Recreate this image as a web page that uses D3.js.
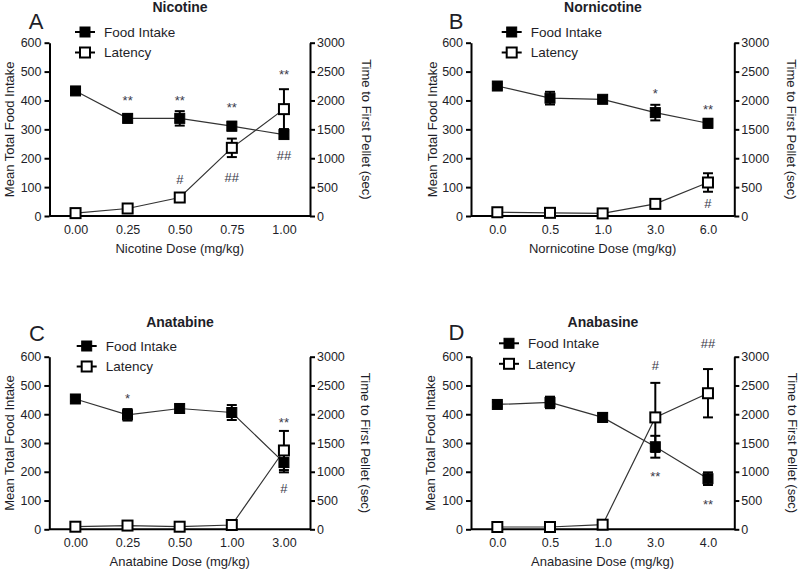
<!DOCTYPE html>
<html>
<head>
<meta charset="utf-8">
<script src="https://cdn.jsdelivr.net/npm/d3@7"></script>
<style>
  html, body { margin: 0; padding: 0; background: #fff; }
  svg { display: block; font-family: "Liberation Sans", Arial, sans-serif; }
</style>
</head>
<body>
<svg id="chart" width="800" height="572"></svg>
<script>
// ---------- DATA ----------
const foodTicks = [0, 100, 200, 300, 400, 500, 600];
const latencyTicks = [0, 500, 1000, 1500, 2000, 2500, 3000];

// Panel A - Nicotine
const nicotineDoses = ["0.00", "0.25", "0.50", "0.75", "1.00"];
const nicotineFood = [433, 338, 338, 311, 282];
const nicotineFoodErr = [8, 14, 25, 15, 12];
const nicotineLatency = [50, 130, 320, 1180, 1850];
const nicotineLatencyErr = [20, 30, 40, 160, 345];
const nicotineNotes = [["0.25", "**", 412], ["0.50", "**", 412], ["0.75", "**", 388], ["1.00", "**", 502],
                       ["0.50", "#", 125], ["0.75", "##", 135], ["1.00", "##", 211]];

// Panel B - Nornicotine
const nornicotineDoses = ["0.0", "0.5", "1.0", "3.0", "6.0"];
const nornicotineFood = [450, 408, 404, 358, 321];
const nornicotineFoodErr = [8, 22, 12, 27, 15];
const nornicotineLatency = [65, 55, 45, 210, 580];
const nornicotineLatencyErr = [20, 15, 15, 30, 160];
const nornicotineNotes = [["3.0", "*", 436], ["6.0", "**", 381], ["6.0", "#", 42]];

// Panel C - Anatabine
const anatabineDoses = ["0.00", "0.25", "0.50", "1.00", "3.00"];
const anatabineFood = [453, 398, 420, 406, 232];
const anatabineFoodErr = [8, 20, 14, 26, 34];
const anatabineLatency = [45, 65, 45, 75, 1370];
const anatabineLatencyErr = [15, 20, 15, 20, 340];
const anatabineNotes = [["0.25", "*", 467], ["3.00", "**", 382], ["3.00", "#", 142]];

// Panel D - Anabasine
const anabasineDoses = ["0.0", "0.5", "1.0", "3.0", "4.0"];
const anabasineFood = [434, 441, 389, 287, 176];
const anabasineFoodErr = [8, 20, 15, 38, 22];
const anabasineLatency = [40, 40, 80, 1945, 2365];
const anabasineLatencyErr = [15, 15, 20, 600, 420];
const anabasineNotes = [["3.0", "#", 571], ["4.0", "##", 646], ["3.0", "**", 195], ["4.0", "**", 99]];

const legendLabels = ["Food Intake", "Latency"];
const leftTitle = "Mean Total Food Intake";
const rightTitle = "Time to First Pellet (sec)";

// ---------- LAYOUT ----------
const panels = [
  { letter: "A", title: "Nicotine", xTitle: "Nicotine Dose (mg/kg)",
    doses: nicotineDoses, food: nicotineFood, foodErr: nicotineFoodErr,
    lat: nicotineLatency, latErr: nicotineLatencyErr, notes: nicotineNotes,
    L: 49.5, R: 310, T: 42.7, B: 216, legX: 75, legY: 32, letterX: 36, letterY: 29,
    titleX: 180, titleY: 12, leftLabX: 9, rightLabX: 367 },
  { letter: "B", title: "Nornicotine", xTitle: "Nornicotine Dose (mg/kg)",
    doses: nornicotineDoses, food: nornicotineFood, foodErr: nornicotineFoodErr,
    lat: nornicotineLatency, latErr: nornicotineLatencyErr, notes: nornicotineNotes,
    L: 471, R: 734.3, T: 42.7, B: 216, legX: 501.7, legY: 32, letterX: 456, letterY: 29,
    titleX: 603, titleY: 12, leftLabX: 432, rightLabX: 792 },
  { letter: "C", title: "Anatabine", xTitle: "Anatabine Dose (mg/kg)",
    doses: anatabineDoses, food: anatabineFood, foodErr: anatabineFoodErr,
    lat: anatabineLatency, latErr: anatabineLatencyErr, notes: anatabineNotes,
    L: 49.3, R: 310, T: 356.7, B: 529.3, legX: 76.7, legY: 346, letterX: 37, letterY: 341,
    titleX: 180, titleY: 326.5, leftLabX: 9, rightLabX: 366 },
  { letter: "D", title: "Anabasine", xTitle: "Anabasine Dose (mg/kg)",
    doses: anabasineDoses, food: anabasineFood, foodErr: anabasineFoodErr,
    lat: anabasineLatency, latErr: anabasineLatencyErr, notes: anabasineNotes,
    L: 471, R: 734.3, T: 356.7, B: 529.3, legX: 499, legY: 343.3, letterX: 456.5, letterY: 340,
    titleX: 603, titleY: 326.5, leftLabX: 430, rightLabX: 793 }
];

const svg = d3.select("#chart");
const textColor = "#1e1e28";
const MS = 10; // marker size
const fmt = d3.format("d");

function marker(g, x, y, filled) {
  g.append("rect")
    .attr("x", x - MS / 2).attr("y", y - MS / 2)
    .attr("width", MS).attr("height", MS)
    .attr("fill", filled ? "#000" : "#fff")
    .attr("stroke", "#000").attr("stroke-width", filled ? 1 : 2);
}

panels.forEach(p => {
  const g = svg.append("g");
  const x = d3.scalePoint().domain(p.doses).range([p.L, p.R]).padding(0.5);
  const yL = d3.scaleLinear().domain([0, 600]).range([p.B, p.T]);
  const yR = d3.scaleLinear().domain([0, 3000]).range([p.B, p.T]);

  const la = g.append("g").attr("transform", `translate(${p.L},0)`)
    .call(d3.axisLeft(yL).tickValues(foodTicks).tickFormat(fmt).tickSize(5).tickSizeOuter(0).tickPadding(3));
  const ra = g.append("g").attr("transform", `translate(${p.R},0)`)
    .call(d3.axisRight(yR).tickValues(latencyTicks).tickFormat(fmt).tickSize(5).tickSizeOuter(0).tickPadding(2));
  const ba = g.append("g").attr("transform", `translate(0,${p.B})`)
    .call(d3.axisBottom(x).tickSize(0).tickSizeOuter(0).tickPadding(9));
  ba.select(".domain").attr("d", `M${p.L},0H${p.R}`);

  [la, ra, ba].forEach(a => {
    a.select(".domain").attr("stroke", "#000").attr("stroke-width", 2);
    a.selectAll(".tick line").attr("stroke", "#000").attr("stroke-width", 2);
    a.selectAll(".tick text").attr("fill", textColor)
      .style("font-size", "12.5px").style("font-family", "'Liberation Sans', Arial, sans-serif");
  });

  g.append("text")
    .attr("transform", `translate(${p.leftLabX},${(p.T + p.B) / 2}) rotate(-90)`)
    .attr("text-anchor", "middle").attr("dy", "0.35em")
    .attr("fill", textColor).style("font-size", "13px").text(leftTitle);
  g.append("text")
    .attr("transform", `translate(${p.rightLabX},${(p.T + p.B) / 2}) rotate(90)`)
    .attr("text-anchor", "middle").attr("dy", "0.35em")
    .attr("fill", textColor).style("font-size", "13px").text(rightTitle);
  g.append("text")
    .attr("x", (p.L + p.R) / 2).attr("y", p.B + 32)
    .attr("text-anchor", "middle").attr("dy", "0.35em")
    .attr("fill", textColor).style("font-size", "13px").text(p.xTitle);

  g.append("text").attr("x", p.titleX).attr("y", p.titleY)
    .attr("text-anchor", "middle").attr("fill", textColor)
    .style("font-size", "14px").style("font-weight", "bold").text(p.title);
  g.append("text").attr("x", p.letterX).attr("y", p.letterY)
    .attr("text-anchor", "middle").attr("fill", textColor)
    .style("font-size", "22px").text(p.letter);

  const line = (scale) => d3.line().x((d, i) => x(p.doses[i])).y(d => scale(d));
  g.append("path").datum(p.food).attr("d", line(yL))
    .attr("fill", "none").attr("stroke", "#333").attr("stroke-width", 1.2);
  g.append("path").datum(p.lat).attr("d", line(yR))
    .attr("fill", "none").attr("stroke", "#333").attr("stroke-width", 1.2);

  function errBars(vals, errs, scale) {
    vals.forEach((v, i) => {
      const cx = x(p.doses[i]);
      const y1 = scale(v + errs[i]), y2 = scale(v - errs[i]);
      g.append("line").attr("x1", cx).attr("x2", cx).attr("y1", y1).attr("y2", y2)
        .attr("stroke", "#000").attr("stroke-width", 2);
      [y1, y2].forEach(yy => g.append("line")
        .attr("x1", cx - 5).attr("x2", cx + 5).attr("y1", yy).attr("y2", yy)
        .attr("stroke", "#000").attr("stroke-width", 2));
    });
  }
  errBars(p.food, p.foodErr, yL);
  errBars(p.lat, p.latErr, yR);

  p.food.forEach((v, i) => marker(g, x(p.doses[i]), yL(v), true));
  p.lat.forEach((v, i) => marker(g, x(p.doses[i]), yR(v), false));

  p.notes.forEach(([dose, txt, val]) => {
    const star = txt.includes("*");
    g.append("text").attr("x", x(dose)).attr("y", yL(val))
      .attr("dy", star ? "0.6em" : "0.35em")
      .attr("text-anchor", "middle").attr("fill", "#3a3a4a")
      .style("font-size", "13px").text(txt);
  });

  legendLabels.forEach((lab, i) => {
    const ly = p.legY + i * 20.5;
    g.append("line").attr("x1", p.legX).attr("x2", p.legX + 20)
      .attr("y1", ly).attr("y2", ly).attr("stroke", "#000").attr("stroke-width", 2);
    marker(g, p.legX + 10, ly, i === 0);
    g.append("text").attr("x", p.legX + 29).attr("y", ly).attr("dy", "0.35em")
      .attr("fill", textColor).style("font-size", "13.5px").text(lab);
  });
});
</script>
</body>
</html>
